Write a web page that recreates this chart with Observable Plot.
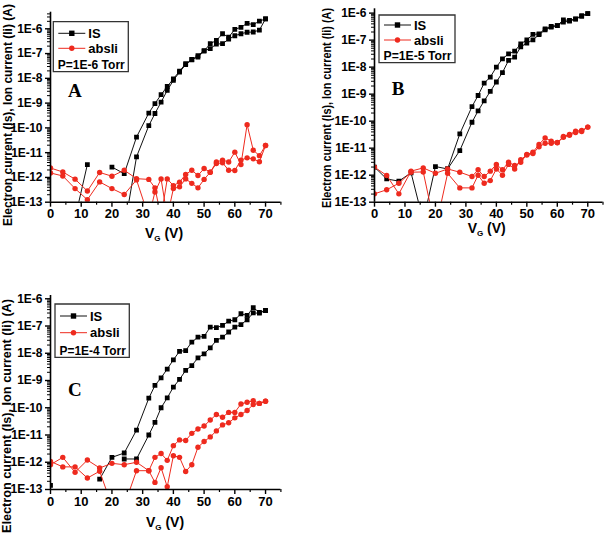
<!DOCTYPE html>
<html><head><meta charset="utf-8">
<script src="https://cdn.jsdelivr.net/npm/d3@7"></script>
<script src="https://cdn.jsdelivr.net/npm/@observablehq/plot@0.6"></script>
<style>
body{margin:0;background:#fff;}
#wrap{position:relative;width:609px;height:537px;overflow:hidden;font-family:Arial,"Liberation Sans",sans-serif;}
#wrap svg.plotsvg{position:absolute;}
</style></head><body><div id="wrap"></div>
<script>
// gate voltage grid (V)
const vg = [0,4,8,12,16,20,24,28,32,34,36,38,40,42,44,46,48,50,52,54,56,58,60,62,64,66,68,70];
// values stored as log10 of current (A); null = not plotted (non-positive)
// Panel A, P=1E-6 Torr
const aIsUp  = [null,null,-13.65,-11.48,null,-11.58,-11.85,-10.37,-9.40,-9.02,-8.66,-8.33,-8.02,-7.71,-7.41,-7.24,-7.14,-6.90,-6.60,-6.47,-6.20,-6.34,-6.02,-5.94,-5.78,-5.83,-5.69,-5.60];
const aIsDn  = [null,null,null,null,null,null,-14.1,-11.17,-9.91,-9.42,-8.96,-8.49,-8.08,-7.75,-7.45,-7.25,-7.08,-6.88,-6.80,-6.62,-6.60,-6.42,-6.28,-6.20,-6.14,-6.13,-6.05,-5.60];
const aAbUp  = [-11.62,-11.78,-12.07,-12.55,-11.80,-11.95,-11.71,-12.05,-12.08,-12.42,-13.6,-12.06,-12.33,-12.19,-11.88,-11.71,-11.92,-11.64,-11.79,-11.38,-11.30,-11.38,-10.98,-11.48,-9.87,-10.90,-11.12,-10.71];
const aAbDn  = [-11.82,-11.94,-12.45,-12.90,-12.18,-12.45,-12.69,-12.10,-13.6,-12.59,-12.06,-13.6,-12.45,-12.38,-12.06,-12.24,-12.42,-12.08,-11.79,-11.44,-11.41,-11.71,-11.72,-11.30,-11.21,-11.25,-11.37,-10.71];
// Panel B, P=1E-5 Torr
const bIsUp  = [-11.70,-12.14,-12.22,-11.91,-13.7,-11.68,-11.77,-10.47,-9.46,-9.05,-8.59,-8.37,-8.00,-7.69,-7.51,-7.41,-7.14,-6.99,-6.79,-6.77,-6.58,-6.49,-6.46,-6.25,-6.27,-6.21,-6.09,-6.02];
const bIsDn  = [null,null,null,null,null,null,-11.77,-11.09,-10.04,-9.62,-9.25,-8.90,-8.55,-8.20,-7.75,-7.63,-7.25,-7.11,-6.99,-6.80,-6.62,-6.52,-6.46,-6.33,-6.30,-6.22,-6.12,-6.02];
const bAbUp  = [-11.70,-12.01,-12.69,-11.85,-11.73,-11.93,-11.77,-11.89,-12.05,-11.80,-12.05,-11.85,-11.60,-11.80,-11.52,-11.64,-11.52,-11.23,-11.15,-10.86,-10.62,-10.74,-10.79,-10.57,-10.49,-10.37,-10.34,-10.22];
const bAbDn  = [-12.69,-12.54,-12.30,-11.89,-11.88,-14.0,-11.93,-12.47,-12.47,-12.00,-12.30,-12.20,-11.77,-12.00,-11.60,-11.77,-11.43,-11.25,-11.20,-10.95,-10.82,-10.82,-10.80,-10.60,-10.52,-10.42,-10.38,-10.22];
// Panel C, P=1E-4 Torr
const cIsUp  = [-12.85,null,null,null,-12.62,-11.82,-11.66,-10.82,-9.65,-9.18,-8.90,-8.58,-8.24,-7.93,-7.90,-7.59,-7.41,-7.38,-7.04,-7.06,-6.98,-6.82,-6.77,-6.55,-6.61,-6.33,-6.50,-6.43];
const cIsDn  = [null,null,null,null,null,null,-11.88,-11.88,-11.00,-10.54,-10.00,-9.64,-9.24,-8.96,-8.63,-8.45,-8.17,-8.02,-7.80,-7.53,-7.41,-7.22,-7.04,-6.95,-6.77,-6.52,-6.53,-6.43];
const cAbUp  = [-12.09,-11.82,-12.37,-11.92,-12.21,-12.04,-12.09,-12.00,-12.31,-11.82,-11.68,-11.93,-11.39,-11.18,-11.20,-10.94,-10.78,-10.67,-10.45,-10.25,-10.35,-10.17,-10.17,-9.86,-9.80,-9.74,-9.84,-9.76];
const cAbDn  = [-11.97,-12.17,-12.17,-12.58,-12.33,-13.6,-13.6,-12.31,-12.31,-12.74,-12.20,-12.90,-11.76,-11.82,-12.34,-12.09,-11.45,-11.24,-11.07,-10.85,-10.63,-10.55,-10.37,-10.25,-10.10,-9.88,-9.84,-9.76];

const xTicks = [0,10,20,30,40,50,60,70];
const xMinorTicks = [5,15,25,35,45,55,65,75];
const yTickExp = [-13,-12,-11,-10,-9,-8,-7,-6];
const seriesNames = ["IS","absli"];
const yLabel = "Electron current (Is), Ion current (Ii) (A)";

const RED = "#ee2a1e";
const BLK = "#111";

const panels = [
  {id:"A", left:0, top:0, w:290, h:250, mt:11.7, mb:48.3, ml:50, mr:9.6, yTop:-5.33,
   isUp:aIsUp, isDn:aIsDn, abUp:aAbUp, abDn:aAbDn, pres:"P=1E-6 Torr",
   yl:{x:7.5, y:115, len:222}, xl:{x:164, y:238}, letter:{x:68, y:97},
   leg:{x:53.3, y:21.7, w:75, h:50, rows:[33.3,48.3,64]}},
  {id:"B", left:300, top:0, w:309, h:250, mt:8.3, mb:48.3, ml:74, mr:6.5, yTop:-5.84,
   isUp:bIsUp, isDn:bIsDn, abUp:bAbUp, abDn:bAbDn, pres:"P=1E-5 Torr",
   yl:{x:27, y:108, len:200}, xl:{x:186.7, y:233}, letter:{x:91.7, y:95},
   leg:{x:79, y:15, w:76, h:47.7, rows:[25,40,55]}},
  {id:"C", left:0, top:270, w:290, h:267, mt:25, mb:48, ml:50, mr:9.6, yTop:-5.88,
   isUp:cIsUp, isDn:cIsDn, abUp:cAbUp, abDn:cAbDn, pres:"P=1E-4 Torr",
   yl:{x:6.5, y:146, len:234}, xl:{x:165, y:256.7}, letter:{x:68, y:126},
   leg:{x:55, y:34, w:74.3, h:53.3, rows:[46,62.7,80]}}
];

function toPts(up, dn){
  const a = up.map((e,i)=>({V:vg[i], I: e==null?null:Math.pow(10,e)}));
  const b = dn.map((e,i)=>({V:vg[i], I: e==null?null:Math.pow(10,e)})).reverse();
  return a.concat(b);
}

const wrap = document.getElementById("wrap");
for (const p of panels){
  const isPts = toPts(p.isUp, p.isDn);
  const abPts = toPts(p.abUp, p.abDn);
  const yMax = Math.pow(10, p.yTop);
  const majors = yTickExp.map(e=>Math.pow(10,e));
  const minors = [];
  for (let e=-13; e<=-6; e++) for (let k=2;k<=9;k++){ const v=k*Math.pow(10,e); if (v<=yMax) minors.push(v); }
  const svg = Plot.plot({
    width:p.w, height:p.h, marginTop:p.mt, marginBottom:p.mb, marginLeft:p.ml, marginRight:p.mr,
    x:{domain:[0,75]},
    y:{type:"log", domain:[1e-13, yMax]},
    style:{fontFamily:"Arial, 'Liberation Sans', sans-serif", fontWeight:"bold", color:"#000", background:"transparent", overflow:"visible"},
    marks:[
      Plot.axisX(xMinorTicks, {tickSize:3, tickFormat:()=>"", label:null, strokeWidth:1.2}),
      Plot.axisX(xTicks, {tickSize:5, tickPadding:2, label:null, fontSize:13, strokeWidth:1.4, tickFormat:d=>String(d)}),
      Plot.axisY(minors, {tickSize:3, tickFormat:()=>"", label:null, strokeWidth:1}),
      Plot.axisY(majors, {tickSize:5, tickPadding:3, label:null, fontSize:12, strokeWidth:1.4, tickFormat:d=>"1E"+Math.round(Math.log10(d))}),
      Plot.line(isPts, {x:"V", y:"I", stroke:BLK, strokeWidth:1, clip:true}),
      Plot.dot(isPts.filter(d=>d.I!=null), {x:"V", y:"I", symbol:"square", r:2.7, fill:"#000", stroke:"none", clip:true}),
      Plot.line(abPts, {x:"V", y:"I", stroke:RED, strokeWidth:1, clip:true}),
      Plot.dot(abPts.filter(d=>d.I!=null), {x:"V", y:"I", symbol:"circle", r:2.7, fill:RED, stroke:"none", clip:true}),
      Plot.ruleX([0], {stroke:"#000", strokeWidth:1.6}),
      Plot.ruleY([1e-13], {stroke:"#000", strokeWidth:1.6})
    ]
  });
  svg.classList.add("plotsvg");
  svg.style.left = p.left+"px";
  svg.style.top = p.top+"px";
  wrap.appendChild(svg);
  const s = d3.select(svg);
  // y label
  s.append("text").attr("transform",`translate(${p.yl.x},${p.yl.y}) rotate(-90)`)
    .attr("text-anchor","middle").attr("dy","0.35em")
    .attr("font-size",12).attr("font-weight","bold").attr("fill","#000")
    .attr("textLength",p.yl.len).attr("lengthAdjust","spacingAndGlyphs").text(yLabel);
  // x label
  const xt = s.append("text").attr("x",p.xl.x).attr("y",p.xl.y).attr("text-anchor","middle")
    .attr("font-size",14).attr("font-weight","bold").attr("fill","#000");
  xt.append("tspan").text("V");
  xt.append("tspan").attr("font-size",8).attr("dy",3).text("G");
  xt.append("tspan").attr("dy",-3).text(" (V)");
  // panel letter
  s.append("text").attr("x",p.letter.x).attr("y",p.letter.y).attr("text-anchor","start")
    .attr("font-family","'Liberation Serif','Times New Roman',serif").attr("font-weight","bold")
    .attr("font-size",19).attr("fill","#000").text(p.id);
  // legend
  const L = p.leg;
  const g = s.append("g").attr("text-anchor","start");
  g.append("path")
    .attr("d",`M${L.x},${L.y}H${L.x+L.w}V${L.y+L.h}H${L.x}Z`)
    .attr("fill","#fff").attr("stroke","#333").attr("stroke-width",1.3);
  const cols = [BLK, RED];
  for (let i=0;i<2;i++){
    const yy = L.rows[i];
    g.append("line").attr("x1",L.x+5).attr("x2",L.x+32).attr("y1",yy).attr("y2",yy)
      .attr("stroke",cols[i]).attr("stroke-width",1);
    if (i===0) g.append("rect").attr("x",L.x+18.5-2.7).attr("y",yy-2.7).attr("width",5.4).attr("height",5.4).attr("fill","#000");
    else g.append("circle").attr("cx",L.x+18.5).attr("cy",yy).attr("r",2.7).attr("fill",RED);
    g.append("text").attr("x",L.x+35).attr("y",yy).attr("dy","0.36em").attr("text-anchor","start")
      .attr("font-size",13).attr("font-weight","bold").attr("fill","#000").text(seriesNames[i]);
  }
  g.append("text").attr("x",L.x+4.5).attr("y",L.rows[2]).attr("dy","0.36em").attr("text-anchor","start")
    .attr("font-size",12.5).attr("font-weight","bold").attr("fill","#000")
    .attr("textLength",L.w-8).attr("lengthAdjust","spacingAndGlyphs").text(p.pres);
}
</script></body></html>
